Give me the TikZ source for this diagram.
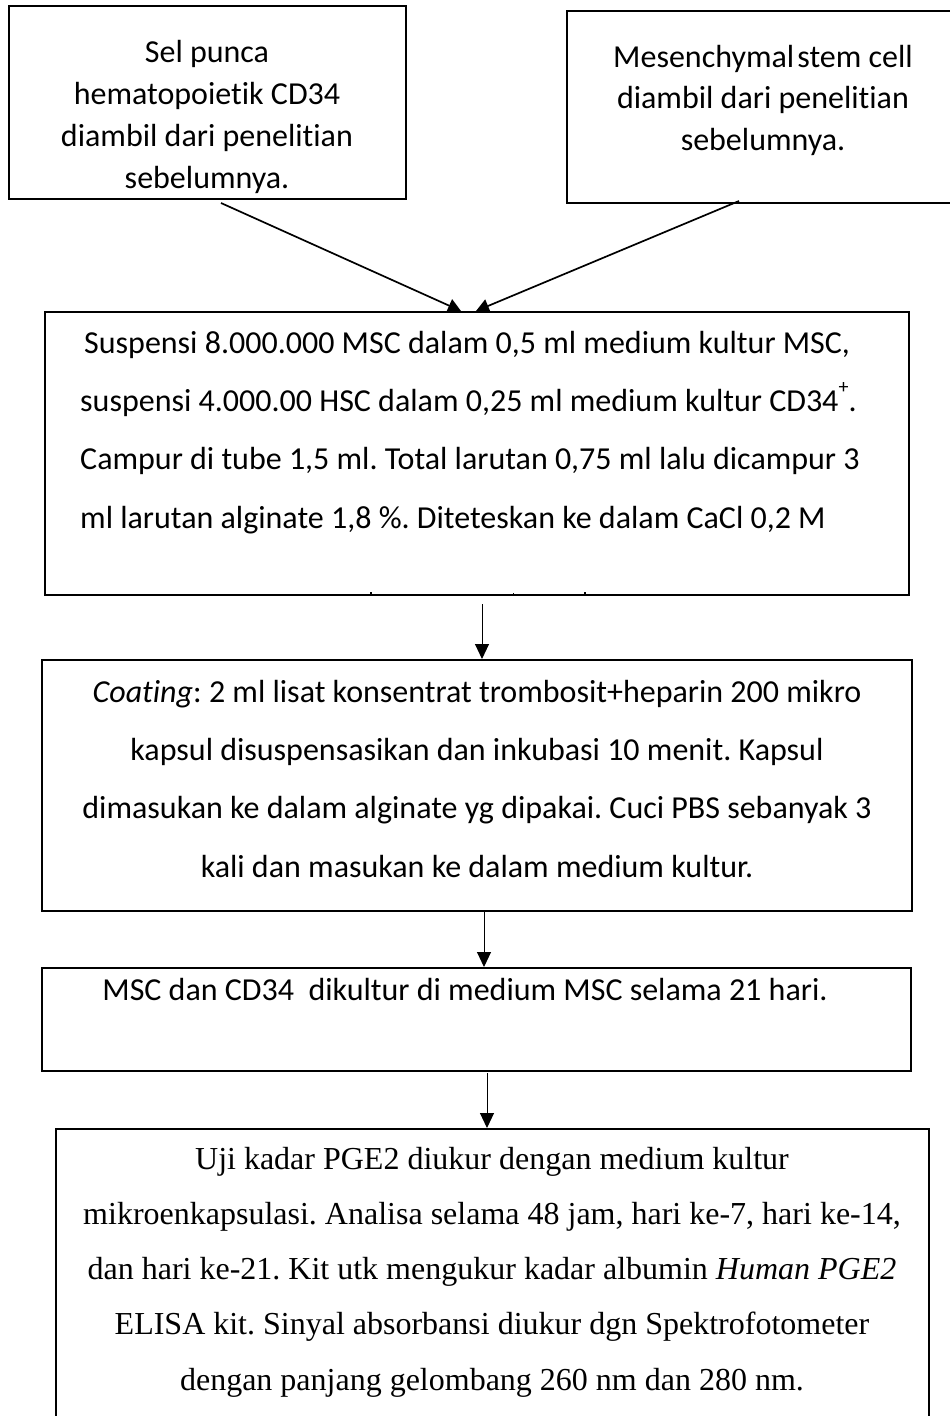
\documentclass[tikz,border=0pt]{standalone}
\usepackage{fontspec}
\newfontfamily\calfont[Ligatures=NoCommon]{Carlito}
\newfontfamily\tmsfont{Liberation Serif}
\usetikzlibrary{arrows.meta}
\frenchspacing
\begin{document}
\begin{tikzpicture}[x=1pt,y=-1pt,
  box/.style={draw,line width=2pt,rectangle,inner sep=0pt,outer sep=0pt},
  ctext/.style={inner sep=0pt,align=center,anchor=base},
  arr/.style={line width=1pt,-{Triangle[length=15pt,width=14pt]}},
  darr/.style={line width=1.7pt,-{Triangle[length=13pt,width=14pt]}}]
\useasboundingbox (0,0) rectangle (950,1416);
% boxes
\node[box,minimum width=397,minimum height=193] (b1) at (207.5,102.5) {};
\node[box,minimum width=393,minimum height=192] (b2) at (763.5,107) {};
\node[box,minimum width=864,minimum height=283] (b3) at (477,453.5) {};
\node[box,minimum width=870,minimum height=251] (b4) at (477,785.5) {};
\node[box,minimum width=869,minimum height=103] (b5) at (476.5,1019.5) {};
\node[box,minimum width=873,minimum height=311] (b6) at (492.5,1284.5) {};
% texts (anchor = baseline of last line)
\node[ctext,font=\calfont\fontsize{32}{41.7}\selectfont] (t1) at (207,188)
  {Sel punca\\hematopoietik CD34\\diambil dari penelitian\\sebelumnya.};
\node[ctext,font=\calfont\fontsize{32}{41.5}\selectfont] (t2) at (763,150)
  {Mesenchymal\hspace{0.1em}stem cell\\diambil dari penelitian\\sebelumnya.};
\node[inner sep=0pt,align=left,anchor=base west,font=\calfont\fontsize{32}{58.3}\selectfont] (t3) at (80,528)
  {\hspace*{4pt}Suspensi 8.000.000 MSC dalam 0,5 ml medium kultur MSC,\\
   suspensi 4.000.00 HSC dalam 0,25 ml medium kultur CD34\raisebox{0.55em}{\fontsize{20}{20}\selectfont +}.\\
   Campur di tube 1,5 ml. Total larutan 0,75 ml lalu dicampur 3\\
   ml larutan alginate 1,8 \%. Diteteskan ke dalam CaCl 0,2 M};
\node[ctext,font=\calfont\fontsize{32}{58.3}\selectfont] (t4) at (477,877)
  {\textit{Coating}: 2 ml lisat konsentrat trombosit+heparin 200 mikro\\
   kapsul disuspensasikan dan inkubasi 10 menit. Kapsul\\
   dimasukan ke dalam alginate yg dipakai. Cuci PBS sebanyak 3\\
   kali dan masukan ke dalam medium kultur.};
\node[ctext,font=\calfont\fontsize{32}{40}\selectfont] (t5) at (465,1000)
  {MSC dan CD34~ dikultur di medium MSC selama 21 hari.};
\node[ctext,font=\tmsfont\fontsize{32}{55.2}\selectfont] (t6) at (492,1390)
  {Uji kadar PGE2 diukur dengan medium kultur\\
   mikroenkapsulasi. Analisa selama 48 jam, hari ke-7, hari ke-14,\\
   dan hari ke-21. Kit utk mengukur kadar albumin \textit{Human PGE2}\\
   ELISA kit. Sinyal absorbansi diukur dgn Spektrofotometer\\
   dengan panjang gelombang 260 nm dan 280 nm.};
% connector end points
\coordinate (s1) at (221,203);
\coordinate (e1) at (461,311);
\coordinate (s2) at (739,201);
\coordinate (e2) at (476,311);
\coordinate (s3) at (482,604);
\coordinate (e3) at (482,659);
\coordinate (s4) at (484,912);
\coordinate (e4) at (484,967);
\coordinate (s5) at (487,1073);
\coordinate (e5) at (487,1128);
\draw[darr] (s1) -- (e1);
\draw[darr] (s2) -- (e2);
\draw[arr] (s3) -- (e3);
\draw[arr] (s4) -- (e4);
\draw[arr] (s5) -- (e5);
% small marks under box 3
\coordinate (m1) at (371,592);
\coordinate (m2) at (513,593);
\coordinate (m3) at (585,592);
\draw[line width=1.2pt] (m1) -- ++(0,3);
\draw[line width=1pt] (m2) -- ++(0,2);
\draw[line width=1.2pt] (m3) -- ++(0,3);
\end{tikzpicture}
\end{document}
